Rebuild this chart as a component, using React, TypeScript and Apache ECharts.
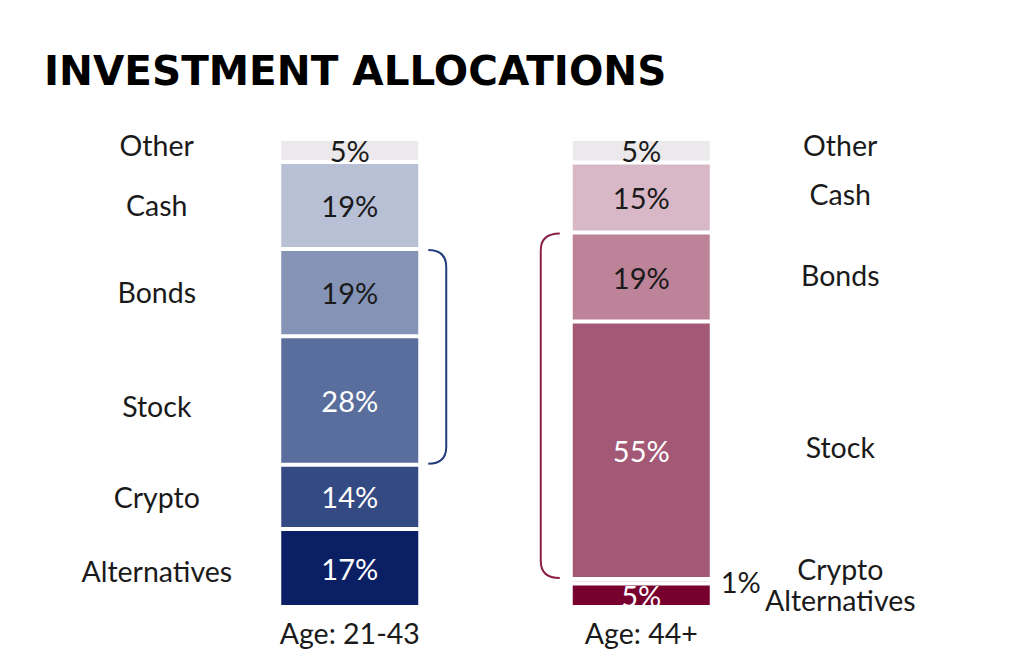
import React, { useEffect, useRef } from "react";
import * as echarts from "echarts";

const title = "INVESTMENT ALLOCATIONS";
const categories = ["Age: 21-43", "Age: 44+"];
const assetClasses = ["Alternatives", "Crypto", "Stock", "Bonds", "Cash", "Other"];
const youngShares = [17, 14, 28, 19, 19, 5];
const olderShares = [5, 1, 55, 19, 15, 5];
const bracketedClasses = ["Stock", "Bonds"];

const youngColors = ["#0B1F64", "#344A83", "#5A6E9D", "#8594B6", "#B8C0D6", "#EBE9EC"];
const olderColors = ["#78002F", "#E6CFD9", "#A35875", "#BD8399", "#D8B8C7", "#EBE9EC"];
const darkLabel = ["Bonds", "Cash", "Other"];
const FONT = "Lato";
const TEXT = "#1a1a1a";

// label nudges (px) for the category name labels beside each bar
const nameNudgeYoung = [3, 0, 5, -1, -1, -5];
const nameNudgeOlder = [5, -12, -3, -2, -4, -6];

export default function App() {
  const ref = useRef<HTMLDivElement>(null);
  useEffect(() => {
    if (!ref.current) return;
    const chart = echarts.init(ref.current, null, { renderer: "svg" });
    const shares = [youngShares, olderShares];
    const totals = shares.map((s) => s.reduce((a, b) => a + b, 0));
    const norm = (c: number, i: number) => (shares[c][i] / totals[c]) * 100;
    const cum = (c: number, i: number) => {
      let s = 0;
      for (let k = 0; k < i; k++) s += norm(c, k);
      return s;
    };

    const barSeries = assetClasses.map((name, i) => ({
      type: "bar",
      name,
      stack: "total",
      barWidth: 141,
      data: [0, 1].map((c) => {
        const color = (c === 0 ? youngColors : olderColors)[i];
        const outside = c === 1 && name === "Crypto";
        return {
          value: norm(c, i),
          itemStyle: { color, borderColor: "#ffffff", borderWidth: 2 },
          label: {
            show: true,
            position: outside ? "right" : "inside",
            distance: 9,
            formatter: () => `${shares[c][i]}%`,
            color: outside || darkLabel.includes(name) ? TEXT : "#ffffff",
            fontFamily: FONT,
            fontSize: 29,
          },
        };
      }),
    }));

    const nameData: number[][] = [];
    [0, 1].forEach((c) =>
      assetClasses.forEach((_, i) => nameData.push([c, cum(c, i) + norm(c, i) / 2, i]))
    );

    const bracketData = [0, 1].map((c) => {
      const idx = bracketedClasses.map((n) => assetClasses.indexOf(n));
      const lo = Math.min(...idx);
      const hi = Math.max(...idx);
      return [c, cum(c, lo), cum(c, hi) + norm(c, hi)];
    });

    chart.setOption({
      animation: false,
      grid: { left: 204, right: 237, top: 139, bottom: 61 },
      xAxis: {
        type: "category",
        data: categories,
        axisLine: { show: false },
        axisTick: { show: false },
        axisLabel: {
          color: TEXT,
          fontFamily: FONT,
          fontSize: 28.5,
          margin: 26,
          verticalAlign: "middle",
        },
      },
      yAxis: { type: "value", min: 0, max: 100, show: false },
      graphic: [
        {
          type: "text",
          left: 44,
          top: 50,
          style: {
            text: title,
            fontFamily: "DejaVu Sans",
            fontWeight: "bold",
            fontSize: 40.5,
            fill: "#000000",
          },
        },
      ],
      series: [
        ...barSeries,
        {
          type: "custom",
          silent: true,
          data: nameData,
          encode: { x: 0, y: 1 },
          renderItem: (params: any, api: any) => {
            const d = nameData[params.dataIndex];
            const c = d[0];
            const i = d[2];
            const p = api.coord([c, d[1]]);
            const dx = c === 0 ? -193 : 199;
            const dy = (c === 0 ? nameNudgeYoung : nameNudgeOlder)[i];
            return {
              type: "text",
              x: p[0] + dx,
              y: p[1] + dy,
              style: {
                text: assetClasses[i],
                fill: TEXT,
                fontFamily: FONT,
                fontSize: 28.5,
                align: "center",
                verticalAlign: "middle",
              },
            };
          },
        },
        {
          type: "custom",
          silent: true,
          data: bracketData,
          encode: { x: 0, y: [1, 2] },
          renderItem: (params: any, api: any) => {
            const d = bracketData[params.dataIndex];
            const c = d[0];
            const pb = api.coord([c, d[1]]);
            const pt = api.coord([c, d[2]]);
            const cx = pb[0];
            const yb = pb[1] - 1;
            const yt = pt[1] + 1;
            const r = 17;
            const xv = c === 0 ? cx + 96.5 : cx - 100.5;
            const x0 = c === 0 ? xv - r - 1 : xv + r + 2;
            const path = `M ${x0} ${yt} Q ${xv} ${yt} ${xv} ${yt + r} L ${xv} ${yb - r} Q ${xv} ${yb} ${x0} ${yb}`;
            return {
              type: "path",
              shape: { pathData: path },
              style: {
                fill: "none",
                stroke: c === 0 ? "#223C7C" : "#8A1F49",
                lineWidth: 2,
              },
            };
          },
        },
      ],
    });
    return () => chart.dispose();
  }, []);
  return (
    <div
      ref={ref}
      style={{ position: "fixed", left: 0, top: 0, width: 1024, height: 668, background: "#ffffff" }}
    />
  );
}
